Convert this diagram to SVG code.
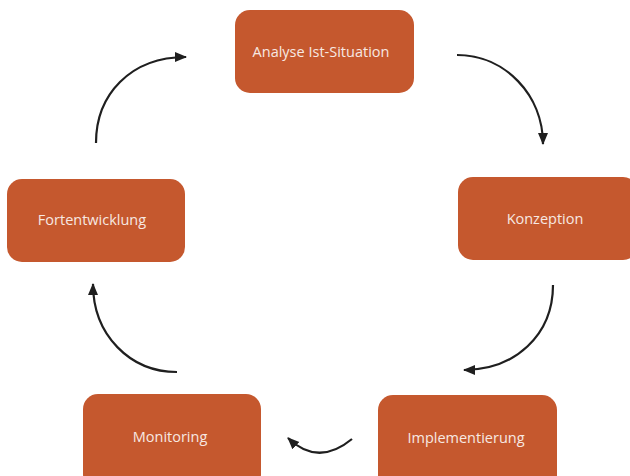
<svg xmlns="http://www.w3.org/2000/svg" width="630" height="476" viewBox="0 0 630 476">
  <style>
    .box { fill: #C5582E; }
    .lbl { fill: #F7E8E2; font-family: "Open Sans", "DejaVu Sans", sans-serif; font-size: 14.5px; text-anchor: middle; dominant-baseline: central; }
    .arc { fill: none; stroke: #1F1F1F; stroke-width: 2.2; }
  </style>
  <defs>
    <marker id="head" markerUnits="userSpaceOnUse" markerWidth="12" markerHeight="12" viewBox="0 0 12 12" refX="11" refY="6" orient="auto">
      <path d="M0,1 L12,6 L0,11 Z" fill="#1F1F1F"/>
    </marker>
  </defs>
  <rect width="630" height="476" fill="#FFFFFF"/>

  <g id="analyse">
    <rect class="box" x="235" y="10" width="179" height="83" rx="15"/>
    <text class="lbl" x="321" y="51">Analyse Ist-Situation</text>
  </g>
  <g id="konzeption">
    <rect class="box" x="458" y="177" width="180" height="83" rx="15"/>
    <text class="lbl" x="545" y="218">Konzeption</text>
  </g>
  <g id="implementierung">
    <rect class="box" x="378" y="395" width="179" height="95" rx="15"/>
    <text class="lbl" x="466" y="437">Implementierung</text>
  </g>
  <g id="monitoring">
    <rect class="box" x="83" y="394" width="178" height="95" rx="15"/>
    <text class="lbl" x="170" y="436">Monitoring</text>
  </g>
  <g id="fortentwicklung">
    <rect class="box" x="7" y="179" width="178" height="83" rx="15"/>
    <text class="lbl" x="92" y="219">Fortentwicklung</text>
  </g>

  <g id="connectors">
    <path class="arc" d="M96,143 C96,95 130,57 186,57" marker-end="url(#head)"/>
    <path class="arc" d="M457,55 C505,55 543,95 543,144" marker-end="url(#head)"/>
    <path class="arc" d="M553,285 C553,335 515,370 464,370" marker-end="url(#head)"/>
    <path class="arc" d="M352,439 Q318,467 288,438" marker-end="url(#head)"/>
    <path class="arc" d="M177,372 C130,372 93,335 93,284" marker-end="url(#head)"/>
  </g>
</svg>
